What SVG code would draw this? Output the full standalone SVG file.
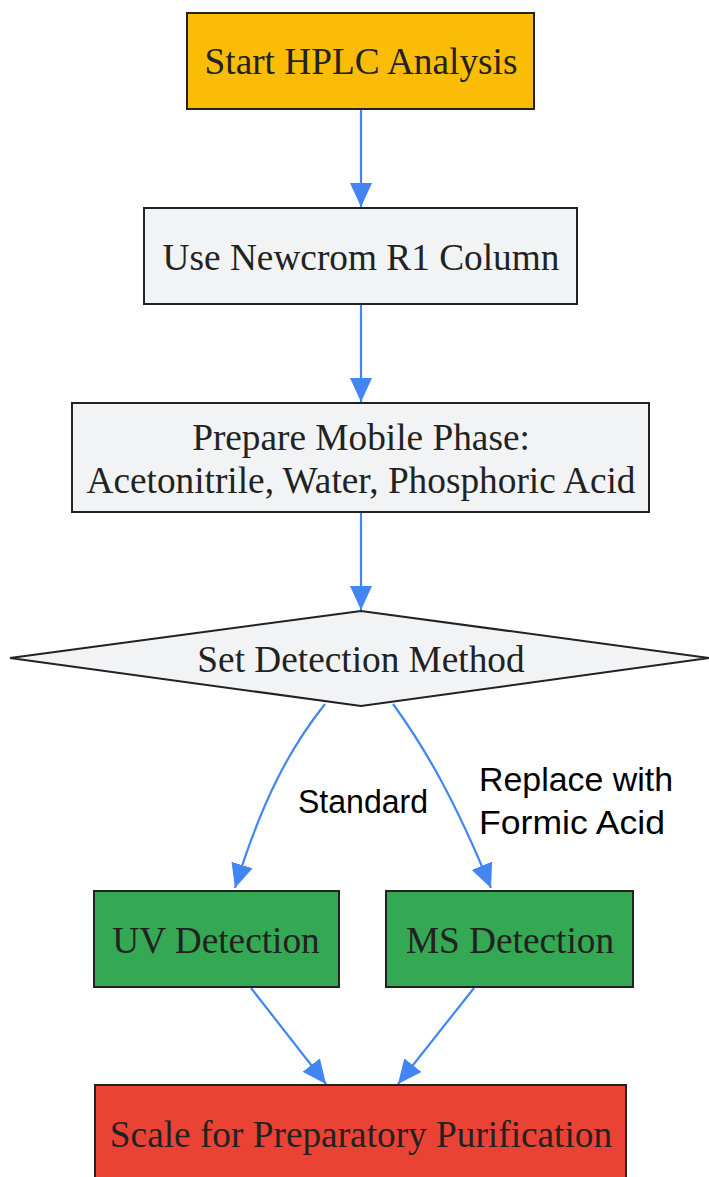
<svg xmlns="http://www.w3.org/2000/svg" width="709" height="1177" viewBox="0 0 709 1177">
<style>
.n{stroke:#222;stroke-width:2}
.t{font-family:"Liberation Serif",serif;font-size:37.3px;fill:#222;text-anchor:middle}
.l{font-family:"Liberation Sans",sans-serif;font-size:34px;fill:#000}
.e{fill:none;stroke:#4285f4;stroke-width:2.2;marker-end:url(#ah)}
</style>
<defs>
<marker id="ah" markerUnits="userSpaceOnUse" markerWidth="24" markerHeight="22" viewBox="0 0 24 22" refX="24" refY="11" orient="auto">
<path d="M0,0 L24,11 L0,22 z" fill="#4285f4"/>
</marker>
</defs>
<rect width="709" height="1177" fill="#fff"/>
<g id="connectors">
<path class="e" d="M361,110 L361,207"/>
<path class="e" d="M361,305 L361,402"/>
<path class="e" d="M361,513 L361,610"/>
<path class="e" d="M325,704 C290,748 262,800 235,888"/>
<path class="e" d="M393,704 C425,748 455,800 491,888"/>
<path class="e" d="M251,988 L326,1084"/>
<path class="e" d="M474,988 L398,1084"/>
<text class="l" x="298" y="813" textLength="130" lengthAdjust="spacingAndGlyphs">Standard</text>
<text class="l" x="479" y="791" textLength="194" lengthAdjust="spacingAndGlyphs">Replace with</text>
<text class="l" x="479" y="834" textLength="186" lengthAdjust="spacingAndGlyphs">Formic Acid</text>
</g>
<g id="start">
<rect class="n" x="187" y="13" width="347" height="96" fill="#fbbc05"/>
<text class="t" x="361" y="74">Start HPLC Analysis</text>
</g>
<g id="column">
<rect class="n" x="144" y="208" width="433" height="96" fill="#f1f3f4"/>
<text class="t" x="361" y="270">Use Newcrom R1 Column</text>
</g>
<g id="mobile">
<rect class="n" x="72" y="403" width="577" height="109" fill="#f1f3f4"/>
<text class="t" x="361" y="450">Prepare Mobile Phase:</text>
<text class="t" x="361" y="493">Acetonitrile, Water, Phosphoric Acid</text>
</g>
<g id="detect">
<polygon class="n" points="10,658 361,611 709,658 361,706" fill="#f1f3f4"/>
<text class="t" x="361" y="672">Set Detection Method</text>
</g>
<g id="uv">
<rect class="n" x="94" y="891" width="245" height="96" fill="#34a853"/>
<text class="t" x="216" y="953">UV Detection</text>
</g>
<g id="ms">
<rect class="n" x="386" y="891" width="247" height="96" fill="#34a853"/>
<text class="t" x="510" y="953">MS Detection</text>
</g>
<g id="scale">
<rect class="n" x="95" y="1085" width="531" height="100" fill="#ea4335"/>
<text class="t" x="361" y="1147">Scale for Preparatory Purification</text>
</g>
</svg>
